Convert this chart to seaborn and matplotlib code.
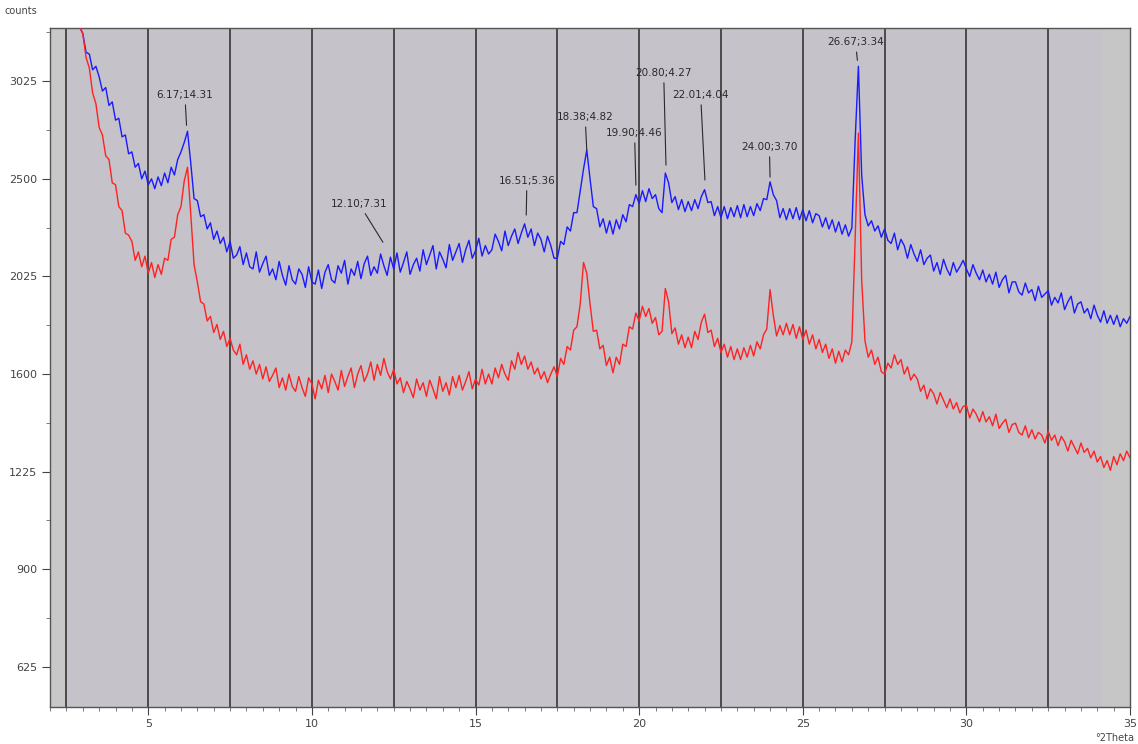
import numpy as np
import pandas as pd
import matplotlib
matplotlib.use("Agg")
import matplotlib.pyplot as plt
import seaborn as sns
from matplotlib.ticker import FixedLocator, MultipleLocator, NullFormatter

# --- scan data (step scan, 0.1 deg 2Theta from 2.5 to 35.0) ---
theta_start = 2.5
theta_step = 0.1
two_theta = np.round(np.arange(theta_start, 35.0 + 1e-9, theta_step), 1)

# upper scan (blue)
counts_upper = [
    3700, 3630, 3510, 3470, 3340, 3300, 3190, 3180, 3090, 3110,
    3050, 2970, 2990, 2890, 2910, 2810, 2820, 2720, 2730, 2630,
    2640, 2560, 2580, 2500, 2540, 2470, 2500, 2450, 2510, 2465,
    2530, 2480, 2560, 2520, 2600, 2640, 2690, 2750, 2580, 2400,
    2390, 2310, 2320, 2250, 2280, 2200, 2240, 2180, 2210, 2140,
    2190, 2110, 2125, 2165, 2080, 2135, 2070, 2060, 2140, 2045,
    2085, 2120, 2030, 2060, 2010, 2095, 2030, 1985, 2075, 2010,
    1990, 2060, 2035, 1975, 2070, 2000, 1990, 2055, 1970, 2045,
    2080, 2010, 1995, 2075, 2040, 2100, 1990, 2060, 2030, 2095,
    2015, 2085, 2120, 2030, 2070, 2040, 2130, 2075, 2030, 2115,
    2060, 2135, 2045, 2090, 2140, 2035, 2080, 2110, 2050, 2150,
    2080, 2125, 2170, 2060, 2140, 2105, 2065, 2175, 2100, 2140,
    2180, 2090, 2150, 2195, 2110, 2145, 2205, 2120, 2170, 2130,
    2150, 2225, 2190, 2145, 2240, 2170, 2215, 2250, 2180, 2230,
    2275, 2210, 2250, 2170, 2230, 2200, 2140, 2215, 2170, 2110,
    2110, 2190, 2175, 2260, 2240, 2330, 2330, 2440, 2550, 2650,
    2500, 2360, 2350, 2260, 2300, 2230, 2290, 2225, 2295, 2250,
    2320, 2285, 2370, 2360, 2420, 2375, 2440, 2385, 2450, 2400,
    2420, 2350, 2330, 2530, 2480, 2380, 2410, 2345, 2395, 2335,
    2385, 2340, 2395, 2350, 2410, 2445, 2380, 2385, 2315, 2360,
    2305, 2360, 2300, 2355, 2310, 2365, 2305, 2370, 2310, 2360,
    2315, 2375, 2340, 2400, 2395, 2485, 2420, 2390, 2305, 2350,
    2295, 2350, 2300, 2355, 2295, 2345, 2290, 2340, 2280, 2325,
    2315, 2260, 2305, 2250, 2295, 2235, 2285, 2225, 2270, 2215,
    2255, 2700, 3110, 2520, 2320, 2265, 2290, 2240, 2265, 2210,
    2250, 2195, 2180, 2230, 2150, 2200, 2170, 2110, 2175, 2130,
    2095, 2150, 2080, 2110, 2125, 2050, 2090, 2035, 2105, 2060,
    2030, 2090, 2045, 2070, 2100, 2060, 2025, 2080, 2040, 2010,
    2055, 2000, 2035, 1990, 2045, 1975, 2010, 2030, 1950, 2000,
    2000, 1955, 1940, 1995, 1950, 1965, 1915, 1980, 1930, 1945,
    1960, 1895, 1930, 1905, 1950, 1875, 1910, 1935, 1860, 1900,
    1910, 1860, 1880, 1835, 1895, 1850, 1820, 1870, 1815, 1850,
    1810, 1850, 1800, 1835, 1815, 1845,
]

# lower scan (red)
counts_lower = [
    3800, 3690, 3540, 3470, 3340, 3300, 3160, 3100, 2960, 2900,
    2770, 2730, 2620, 2600, 2480, 2470, 2360, 2340, 2230, 2220,
    2190, 2100, 2140, 2070, 2120, 2040, 2090, 2020, 2080, 2035,
    2110, 2100, 2200, 2210, 2320, 2360, 2490, 2560, 2320, 2080,
    2000, 1910, 1900, 1825, 1845, 1775, 1810, 1745, 1780, 1715,
    1750, 1700, 1680, 1725, 1640, 1680, 1620, 1655, 1600, 1640,
    1580, 1630, 1570, 1595, 1625, 1545, 1585, 1535, 1600, 1550,
    1530, 1590, 1545, 1510, 1585, 1560, 1500, 1575, 1540, 1595,
    1525, 1600, 1570, 1535, 1615, 1550, 1590, 1625, 1545, 1600,
    1635, 1570, 1600, 1650, 1575, 1640, 1595, 1665, 1610, 1580,
    1620, 1560, 1585, 1525, 1570, 1540, 1505, 1580, 1535, 1565,
    1510, 1575, 1540, 1500, 1590, 1530, 1565, 1515, 1590, 1545,
    1595, 1535, 1570, 1610, 1540, 1580, 1555, 1620, 1560, 1600,
    1560, 1625, 1585, 1640, 1600, 1575, 1655, 1620, 1690, 1640,
    1675, 1620, 1650, 1600, 1625, 1580, 1610, 1565, 1600, 1630,
    1590, 1665, 1640, 1715, 1700, 1785, 1800, 1900, 2090, 2040,
    1900, 1780, 1785, 1705, 1720, 1635, 1670, 1605, 1670, 1640,
    1725, 1715, 1800, 1790, 1860, 1825, 1890, 1845, 1880, 1815,
    1840, 1765, 1780, 1970, 1910, 1770, 1795, 1725, 1765, 1710,
    1755, 1710, 1780, 1745, 1820, 1855, 1775, 1785, 1715, 1750,
    1690, 1725, 1670, 1715, 1660, 1705, 1660, 1710, 1670, 1720,
    1675, 1735, 1705, 1765, 1790, 1965, 1850, 1760, 1805, 1765,
    1815, 1765, 1810, 1750, 1800, 1745, 1785, 1725, 1765, 1705,
    1745, 1690, 1725, 1665, 1705, 1645, 1695, 1650, 1700, 1680,
    1735, 2200, 2740, 2010, 1740, 1670, 1700, 1640, 1670, 1610,
    1600, 1645, 1625, 1680, 1640, 1660, 1600, 1630, 1575, 1600,
    1580, 1530, 1555, 1500, 1540, 1520, 1480, 1525, 1495, 1465,
    1500, 1460, 1485, 1445, 1470, 1475, 1425, 1460, 1440, 1410,
    1450, 1410, 1430, 1395, 1440, 1385, 1405, 1420, 1370, 1400,
    1405, 1370, 1360, 1395, 1350, 1380, 1345, 1370, 1360, 1330,
    1375, 1340, 1360, 1320, 1355, 1335, 1300, 1340, 1315, 1290,
    1330, 1295, 1310, 1275, 1300, 1260, 1280, 1240, 1265, 1230,
    1280, 1250, 1290, 1265, 1300, 1275,
]

# peak labels: 2Theta ; d-spacing
peak_pos = [6.17, 12.10, 16.51, 18.38, 19.90, 20.80, 22.01, 24.00, 26.67]
peak_d = [14.31, 7.31, 5.36, 4.82, 4.46, 4.27, 4.04, 3.70, 3.34]

y_ticks = [625, 900, 1225, 1600, 2025, 2500, 3025]

# --- frame ---
df = pd.DataFrame({
    "2Theta": np.concatenate([two_theta, two_theta]),
    "counts": counts_upper + counts_lower,
    "scan": ["upper"] * len(two_theta) + ["lower"] * len(two_theta),
})

sns.set_theme(style="ticks")
plt.rcParams["font.family"] = ["DejaVu Sans"]

fig = plt.figure(figsize=(11.38, 7.44), dpi=100)
ax = fig.add_axes([0.044, 0.050, 0.949, 0.912])
ax.set_facecolor("#c5c2c9")

ax.set_yscale("function", functions=(lambda v: np.sqrt(np.clip(v, 0, None)), np.square))
ax.set_xlim(2.0, 35.0)
ax.set_ylim(527, 3331)

# lighter strips outside the scanned range
ax.axvspan(2.0, 2.5, color="#c8c8c8", zorder=0)
ax.axvspan(34.15, 35.0, color="#c6c6c6", zorder=0)

for gx in np.arange(2.5, 34.9, 2.5):
    ax.axvline(gx, color="#4a4a4a", lw=1.4, zorder=1)

sns.lineplot(data=df, x="2Theta", y="counts", hue="scan",
             palette={"upper": "#1a1aff", "lower": "#ff2222"},
             hue_order=["upper", "lower"], estimator=None, sort=False,
             lw=1.0, legend=False, ax=ax, zorder=3)

# annotation layout: (text x, text y, tip x, tip y)
label_layout = [
    (6.12, 2947, 6.17, 2782),
    (11.45, 2372, 12.17, 2186),
    (16.57, 2489, 16.55, 2318),
    (18.35, 2825, 18.40, 2649),
    (19.86, 2739, 19.90, 2468),
    (20.75, 3071, 20.82, 2571),
    (21.88, 2947, 22.01, 2494),
    (23.98, 2665, 24.00, 2509),
    (26.61, 3248, 26.67, 3144),
]
for pos, d, (tx, ty, px, py) in zip(peak_pos, peak_d, label_layout):
    ax.annotate(f"{pos:.2f};{d:.2f}", xy=(px, py), xytext=(tx, ty),
                ha="center", va="center", fontsize=7.5, color="#2a2a2a",
                arrowprops=dict(arrowstyle="-", color="#2a2a2a", lw=0.8,
                                shrinkA=1, shrinkB=0), zorder=5)

# axes cosmetics
ax.xaxis.set_major_locator(MultipleLocator(5))
ax.xaxis.set_minor_locator(MultipleLocator(0.5))
ax.yaxis.set_major_locator(FixedLocator(y_ticks))
ax.yaxis.set_minor_locator(FixedLocator([27.5 ** 2, 32.5 ** 2, 37.5 ** 2, 42.5 ** 2,
                                         47.5 ** 2, 52.5 ** 2, 57.5 ** 2]))
ax.yaxis.set_minor_formatter(NullFormatter())
ax.set_xticklabels([f"{int(v)}" for v in ax.get_xticks()])
ax.tick_params(axis="both", which="major", direction="out", length=6, width=0.8,
               labelsize=8, colors="#444444", pad=3)
ax.tick_params(axis="both", which="minor", direction="out", length=3, width=0.6,
               colors="#666666")
ax.set_xlabel("")
ax.set_ylabel("")
for side in ["left", "right", "top", "bottom"]:
    ax.spines[side].set_color("#555555")
    ax.spines[side].set_linewidth(1.0)

fig.text(0.004, 0.992, "counts", fontsize=7, color="#444444", ha="left", va="top")
fig.text(0.997, 0.002, "°2Theta", fontsize=7, color="#444444", ha="right", va="bottom")

fig.savefig("out.png", dpi=100)
